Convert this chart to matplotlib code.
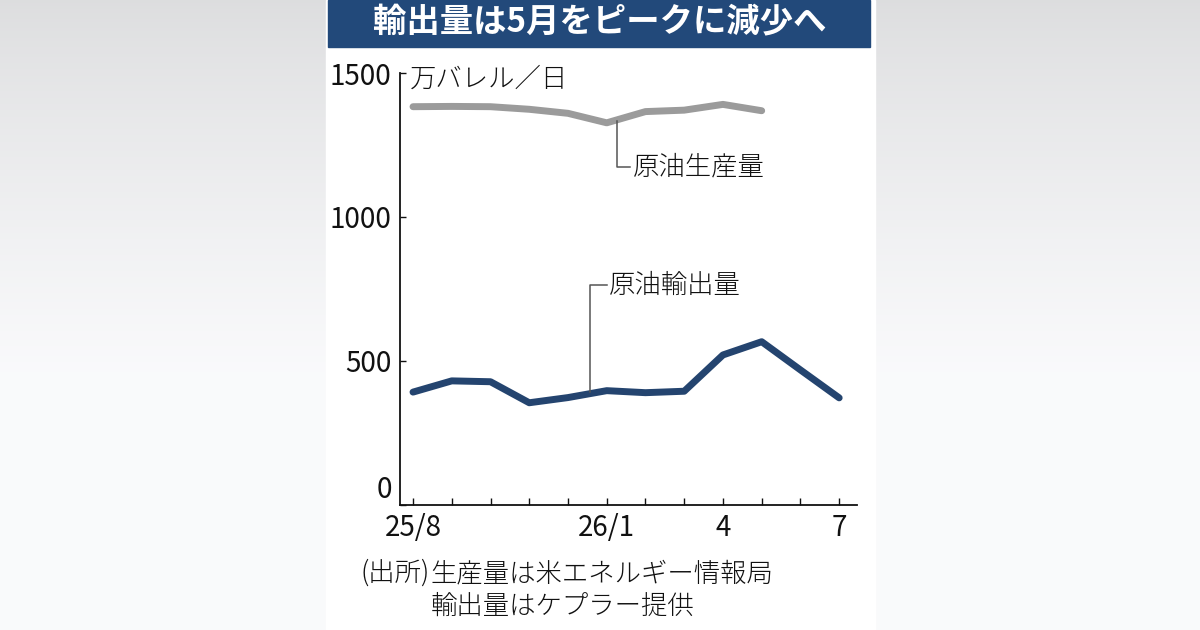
import numpy as np
import matplotlib.pyplot as plt
from matplotlib.patches import Rectangle

plt.rcParams['font.family'] = ['Noto Sans CJK JP', 'DejaVu Sans']

# months Aug 2025 .. Jul 2026
months = np.arange(12)
tick_labels = ['25/8', '', '', '', '', '26/1', '', '', '4', '', '', '7']

# 万バレル/日
production = [1383, 1384, 1383, 1374, 1360, 1327, 1366, 1371, 1391, 1369]
exports = [392, 431, 428, 355, 373, 397, 390, 395, 521, 567, 469, 372]

title = '輸出量は5月をピークに減少へ'
unit = '万バレル／日'
lab_prod = '原油生産量'
lab_exp = '原油輸出量'
source_head = '(出所)'
source1 = '生産量は米エネルギー情報局'
source2 = '輸出量はケプラー提供'

W, H = 1200, 630
fig = plt.figure(figsize=(12, 6.3), dpi=100)

# grey gradient background
bg = fig.add_axes([0, 0, 1, 1], zorder=-10)
yy = np.linspace(0, 1, 200)[:, None] * np.ones((1, 300))
shade = 0.865 + 0.115 * np.clip(yy / 0.6, 0, 1) ** 0.8
bg.imshow(np.dstack([shade, shade + 0.002, shade + 0.008]).clip(0, 1),
          extent=[0, 1, 0, 1], aspect='auto', origin='upper')
bg.set_axis_off()

# white panel + title bar
fig.patches.append(Rectangle((326 / W, 0), (875 - 326) / W, 1,
                             transform=fig.transFigure, color='white', zorder=-5))
fig.patches.append(Rectangle((328 / W, 1 - 47 / H), (870 - 328) / W, 47 / H,
                             transform=fig.transFigure, color='#22497a', zorder=-4))
fig.text(600 / W, 1 - 23 / H, title, color='white', fontsize=24,
         fontweight='bold', ha='center', va='center')

# plotting area in pixels: left 400, right 857, top 73 (=1500), bottom 505 (=0)
ax = fig.add_axes([400 / W, 1 - 505 / H, 457 / W, 432 / H])
ax.set_facecolor('none')
ax.set_xlim(-0.336, 11.46)
ax.set_ylim(0, 1500)

ax.plot(months[:len(production)], production, color='#9b9b9b', lw=5,
        solid_capstyle='round', solid_joinstyle='round')
ax.plot(months, exports, color='#24446f', lw=5,
        solid_capstyle='round', solid_joinstyle='round')

for s in ['top', 'right']:
    ax.spines[s].set_visible(False)
for s in ['left', 'bottom']:
    ax.spines[s].set_linewidth(1.3)
    ax.spines[s].set_color('#111111')

num_font = ['Liberation Sans Narrow', 'Noto Sans CJK JP']
ax.set_yticks([0, 500, 1000, 1500])
ax.set_yticklabels(['0', '500', '1000', '1500'], family=num_font, fontsize=20)
ax.get_yticklabels()[0].set_verticalalignment('bottom')
ax.set_xticks(months)
ax.set_xticklabels(tick_labels, family=num_font, fontsize=20)
ax.tick_params(axis='y', direction='in', length=4, width=1, pad=6, colors='#111111')
ax.tick_params(axis='x', direction='in', length=5, width=1, pad=6, colors='#111111')

txt = dict(color='#111111', fontweight='light')

# unit label
ax.text(-0.08, 1480, unit, fontsize=19, va='center', ha='left', **txt)

# leader lines and series labels
lc = '#555555'
ax.plot([5.27, 5.27, 5.6], [1335, 1174, 1174], color=lc, lw=1.1)
ax.text(5.68, 1174, lab_prod, fontsize=19, va='center', ha='left', **txt)
ax.plot([4.57, 4.57, 5.0], [392, 764, 764], color=lc, lw=1.1)
ax.text(5.05, 764, lab_exp, fontsize=19, va='center', ha='left', **txt)

# source notes
fig.text(430 / W, 1 - 573 / H, source_head, fontsize=19, va='center', ha='right', **txt)
fig.text(431 / W, 1 - 573 / H, source1, fontsize=19, va='center', ha='left', **txt)
fig.text(431 / W, 1 - 606 / H, source2, fontsize=19, va='center', ha='left', **txt)

fig.savefig('out.png', dpi=100)
